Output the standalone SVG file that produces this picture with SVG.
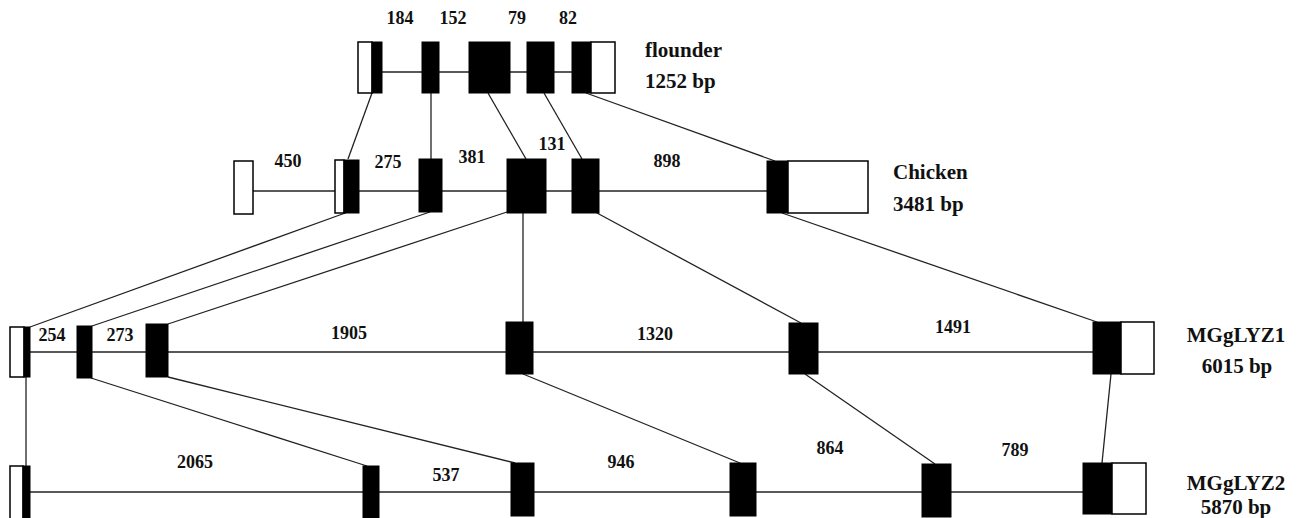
<svg xmlns="http://www.w3.org/2000/svg" width="1299" height="518" viewBox="0 0 1299 518">
<style>
.w{fill:#fff;stroke:#000;stroke-width:1.5}
.b{fill:#000;stroke:#000;stroke-width:1}
.ln{stroke:#222;stroke-width:1.3;fill:none}
text{font-family:'Liberation Serif','DejaVu Serif','Times New Roman',serif;font-weight:bold;fill:#111}
.n{font-size:18px;text-anchor:middle}
.t{font-size:21px}
.tm{font-size:21px;text-anchor:middle}
</style>
<rect width="1299" height="518" fill="#fff"/>
<g id="connectors">
  <line class="ln" x1="382" y1="72" x2="572" y2="72"/>
  <line class="ln" x1="253" y1="191" x2="767" y2="191"/>
  <line class="ln" x1="30" y1="352" x2="1093" y2="352"/>
  <line class="ln" x1="30" y1="492" x2="1083" y2="492"/>
  <line class="ln" x1="372" y1="93" x2="348" y2="159"/>
  <line class="ln" x1="431" y1="93" x2="431" y2="159"/>
  <line class="ln" x1="488" y1="93" x2="526" y2="159"/>
  <line class="ln" x1="544" y1="93" x2="582" y2="159"/>
  <line class="ln" x1="586" y1="93" x2="775" y2="161"/>
  <line class="ln" x1="348" y1="212" x2="30" y2="327"/>
  <line class="ln" x1="430" y1="212" x2="92" y2="326"/>
  <line class="ln" x1="507" y1="212" x2="168" y2="324"/>
  <line class="ln" x1="523" y1="213" x2="523" y2="322"/>
  <line class="ln" x1="597" y1="213" x2="801" y2="323"/>
  <line class="ln" x1="782" y1="213" x2="1097" y2="322"/>
  <line class="ln" x1="26" y1="377" x2="26" y2="466"/>
  <line class="ln" x1="91" y1="378" x2="367" y2="466"/>
  <line class="ln" x1="168" y1="377" x2="515" y2="463"/>
  <line class="ln" x1="523" y1="374" x2="740" y2="463"/>
  <line class="ln" x1="805" y1="374" x2="935" y2="464"/>
  <line class="ln" x1="1111" y1="374" x2="1102" y2="463"/>
</g>
<g id="flounder">
  <rect class="w" x="358" y="42" width="14" height="51"/>
  <rect class="b" x="372" y="42" width="10" height="51"/>
  <rect class="b" x="422" y="42" width="17" height="51"/>
  <rect class="b" x="469" y="42" width="41" height="51"/>
  <rect class="b" x="527" y="42" width="27" height="51"/>
  <rect class="b" x="572" y="42" width="19" height="51"/>
  <rect class="w" x="591" y="42" width="24" height="51"/>
  <text class="n" x="400" y="24">184</text>
  <text class="n" x="453" y="24">152</text>
  <text class="n" x="517" y="24">79</text>
  <text class="n" x="568" y="24">82</text>
  <text class="t" x="645" y="57">flounder</text>
  <text class="t" x="645" y="88">1252 bp</text>
</g>
<g id="chicken">
  <rect class="w" x="234" y="161" width="19" height="53"/>
  <rect class="w" x="335" y="160" width="9" height="53"/>
  <rect class="b" x="344" y="160" width="15" height="53"/>
  <rect class="b" x="419" y="159" width="23" height="53"/>
  <rect class="b" x="507" y="159" width="39" height="54"/>
  <rect class="b" x="572" y="159" width="27" height="54"/>
  <rect class="b" x="767" y="161" width="21" height="52"/>
  <rect class="w" x="788" y="161" width="80" height="52"/>
  <text class="n" x="288" y="167">450</text>
  <text class="n" x="388" y="168">275</text>
  <text class="n" x="472" y="163">381</text>
  <text class="n" x="552" y="150">131</text>
  <text class="n" x="667" y="167">898</text>
  <text class="t" x="893" y="179">Chicken</text>
  <text class="t" x="893" y="211">3481 bp</text>
</g>
<g id="MGgLYZ1">
  <rect class="w" x="10" y="327" width="14" height="50"/>
  <rect class="b" x="24" y="327" width="6" height="50"/>
  <rect class="b" x="77" y="326" width="15" height="52"/>
  <rect class="b" x="146" y="324" width="22" height="53"/>
  <rect class="b" x="506" y="322" width="27" height="52"/>
  <rect class="b" x="789" y="323" width="29" height="51"/>
  <rect class="b" x="1093" y="322" width="28" height="52"/>
  <rect class="w" x="1121" y="322" width="33" height="52"/>
  <text class="n" x="52" y="341">254</text>
  <text class="n" x="120" y="341">273</text>
  <text class="n" x="349" y="339">1905</text>
  <text class="n" x="655" y="340">1320</text>
  <text class="n" x="953" y="333">1491</text>
  <text class="tm" x="1236" y="342">MGgLYZ1</text>
  <text class="tm" x="1237" y="373">6015 bp</text>
</g>
<g id="MGgLYZ2">
  <rect class="w" x="10" y="466" width="13" height="54"/>
  <rect class="b" x="23" y="466" width="7" height="54"/>
  <rect class="b" x="363" y="466" width="16" height="54"/>
  <rect class="b" x="511" y="463" width="23" height="53"/>
  <rect class="b" x="730" y="463" width="26" height="53"/>
  <rect class="b" x="922" y="464" width="29" height="53"/>
  <rect class="b" x="1083" y="463" width="29" height="51"/>
  <rect class="w" x="1112" y="463" width="34" height="51"/>
  <text class="n" x="195" y="468">2065</text>
  <text class="n" x="446" y="481">537</text>
  <text class="n" x="621" y="468">946</text>
  <text class="n" x="830" y="454">864</text>
  <text class="n" x="1015" y="456">789</text>
  <text class="tm" x="1236" y="490">MGgLYZ2</text>
  <text class="tm" x="1236" y="514">5870 bp</text>
</g>
</svg>
